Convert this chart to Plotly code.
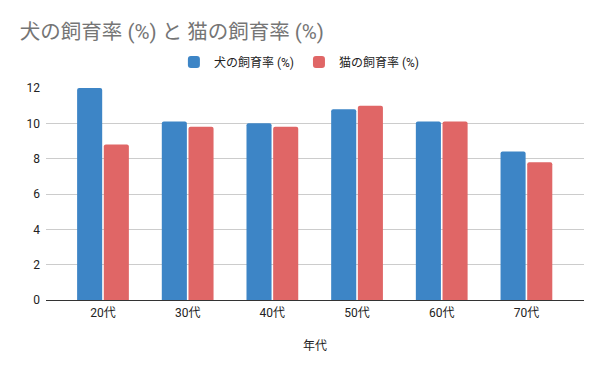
import plotly.graph_objects as go

categories = ["20代", "30代", "40代", "50代", "60代", "70代"]
dog_rate = [12.0, 10.1, 10.0, 10.8, 10.1, 8.4]
cat_rate = [8.8, 9.8, 9.8, 11.0, 10.1, 7.8]
series_names = ["犬の飼育率 (%)", "猫の飼育率 (%)"]
y_ticks = [0, 2, 4, 6, 8, 10, 12]

FONT = "Roboto, 'Noto Sans CJK JP', sans-serif"

fig = go.Figure()
fig.add_trace(go.Bar(x=categories, y=dog_rate, name=series_names[0],
                     marker=dict(color="#3d85c6", line=dict(width=0))))
fig.add_trace(go.Bar(x=categories, y=cat_rate, name=series_names[1],
                     marker=dict(color="#e06666", line=dict(width=0))))

fig.update_layout(
    width=600, height=371,
    margin=dict(l=46, r=16, t=88, b=71, autoexpand=False),
    paper_bgcolor="white", plot_bgcolor="white",
    font=dict(family=FONT, size=12, color="#222222"),
    title=dict(text="犬の飼育率 (%) と 猫の飼育率 (%)", x=0.033, xanchor="left",
               y=0.915, yanchor="middle", yref="container",
               font=dict(family=FONT, size=20.5, color="#757575")),
    barmode="group", bargap=0.37, bargroupgap=0.06, barcornerradius=2,
    showlegend=True,
    legend=dict(orientation="h", x=0.471, xanchor="center", y=0.833, yanchor="middle",
                yref="container",
                font=dict(family=FONT, size=12, color="#222222"),
                itemwidth=30, traceorder="normal"),
    xaxis=dict(range=[-0.673, 5.68], showgrid=False, showline=True,
               linecolor="#333333", linewidth=1, ticks="",
               tickfont=dict(size=12, color="#222222"), ticklabelstandoff=2,
               title=dict(text="年代", font=dict(size=12, color="#222222"), standoff=22)),
    yaxis=dict(range=[0, 12], tickvals=y_ticks, showgrid=True, gridcolor="#cccccc",
               gridwidth=1, zeroline=False, showline=False, ticks="",
               tickfont=dict(size=12, color="#222222"), ticklabelstandoff=5),
)

fig.write_html("out.html", config={"displayModeBar": False},
               post_script="document.body.style.margin='0';document.body.style.padding='0';")
